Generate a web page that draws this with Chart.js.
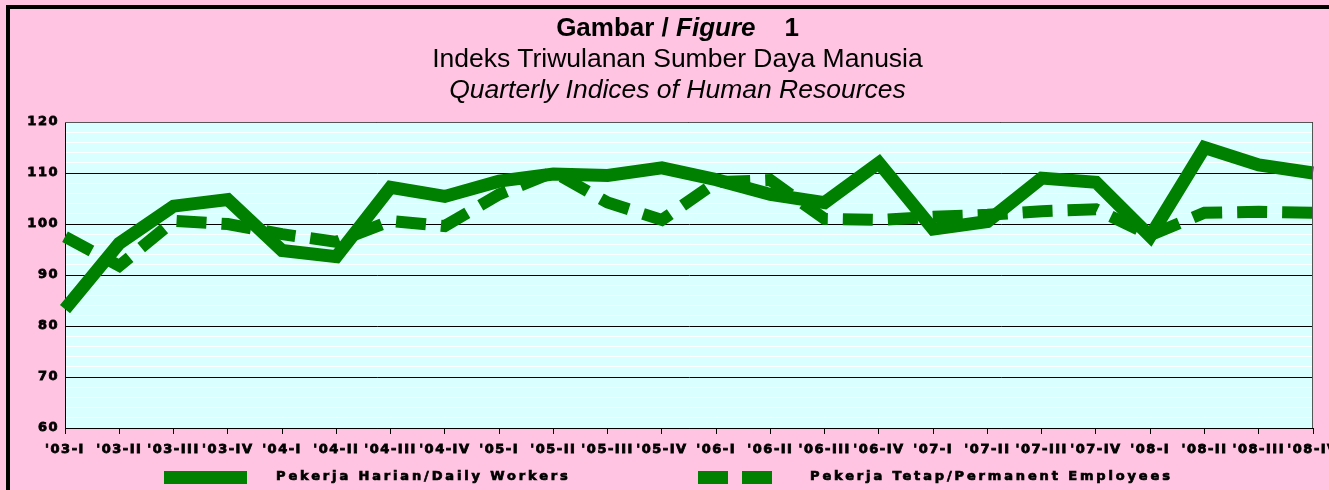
<!DOCTYPE html>
<html>
<head>
<meta charset="utf-8">
<script src="https://cdn.jsdelivr.net/npm/chart.js@4"></script>
<style>
  html, body { margin: 0; padding: 0; }
  body { width: 1329px; height: 490px; background: #ffc4e1; position: relative; overflow: hidden; font-family: "Liberation Sans", Arial, sans-serif; }
  #frame { position: absolute; left: 6px; top: 5px; right: -10px; bottom: -10px; border-top: 4px solid #000; border-left: 4px solid #000; pointer-events: none; }
  #titles { position: absolute; left: 13px; width: 1329px; top: 12px; text-align: center; color: #000; }
  #titles div { line-height: 31px; }
  .t1 { font-size: 26px; font-weight: bold; }
  .t2 { font-size: 26.5px; }
  .t3 { font-size: 26.5px; font-style: italic; }
  #chart { position: absolute; left: 0; top: 0; }
  .leg { position: absolute; top: 471px; height: 13px; background: #008000; }
  .legtxt { position: absolute; top: 468px; font-family: "DejaVu Sans", sans-serif; font-weight: bold; font-size: 13px; letter-spacing: 2.85px; -webkit-text-stroke: 0.7px #000; color: #000; white-space: nowrap; }
</style>
</head>
<body>
<canvas id="chart" width="1329" height="490"></canvas>
<div id="titles">
  <div class="t1">Gambar / <i>Figure</i>&nbsp;&nbsp;&nbsp;&nbsp;1</div>
  <div class="t2">Indeks Triwulanan Sumber Daya Manusia</div>
  <div class="t3">Quarterly Indices of Human Resources</div>
</div>
<div class="leg" style="left:164px;width:83px"></div>
<div class="legtxt" style="left:276px">Pekerja Harian/Daily Workers</div>
<div class="leg" style="left:698px;width:30px"></div>
<div class="leg" style="left:742px;width:30px"></div>
<div class="legtxt" style="left:810px">Pekerja Tetap/Permanent Employees</div>
<div id="frame"></div>
<script>
const quarters = [
  "'03-I", "'03-II", "'03-III", "'03-IV",
  "'04-I", "'04-II", "'04-III", "'04-IV",
  "'05-I", "'05-II", "'05-III", "'05-IV",
  "'06-I", "'06-II", "'06-III", "'06-IV",
  "'07-I", "'07-II", "'07-III", "'07-IV",
  "'08-I", "'08-II", "'08-III", "'08-IV",
];
const dailyWorkers = [83.3, 96.2, 103.5, 104.8, 94.8, 93.6, 107.2, 105.4, 108.4, 109.8, 109.5, 111,
  108.7, 105.8, 104.2, 112, 99, 100.5, 109, 108.2, 97.6, 115, 111.6, 110];
const permanentEmployees = [97.5, 91.8, 100.6, 100, 98, 96.5, 100.6, 99.6, 105.8, 110.2, 104.2, 100.8,
  108.2, 108.6, 101, 100.8, 101.4, 101.8, 102.5, 102.9, 97.8, 102.2, 102.4, 102.2];
const yTicks = [60, 70, 80, 90, 100, 110, 120];

const plotBg = {
  id: "plotBg",
  beforeDraw(chart) {
    const { ctx, chartArea: a } = chart;
    ctx.save();
    ctx.fillStyle = "#d9ffff";
    ctx.fillRect(a.left, a.top, a.right - a.left, a.bottom - a.top);
    ctx.restore();
    ctx.letterSpacing = "1.5px";
  },
  afterDatasetsDraw(chart) {
    const { ctx, chartArea: a } = chart;
    ctx.save();
    ctx.strokeStyle = "#555";
    ctx.lineWidth = 1;
    ctx.beginPath();
    ctx.moveTo(a.left, a.top + 0.5);
    ctx.lineTo(a.right - 0.5, a.top + 0.5);
    ctx.lineTo(a.right - 0.5, a.bottom);
    ctx.stroke();
    ctx.restore();
  },
};

const tickFont = { family: "DejaVu Sans", weight: "bold", size: 13 };

new Chart(document.getElementById("chart").getContext("2d"), {
  type: "line",
  data: {
    labels: quarters,
    datasets: [
      {
        label: "Pekerja Harian/Daily Workers",
        data: dailyWorkers,
        borderColor: "#008000",
        borderWidth: 13,
        borderJoinStyle: "miter",
        pointRadius: 0,
        tension: 0,
      },
      {
        label: "Pekerja Tetap/Permanent Employees",
        data: permanentEmployees,
        borderColor: "#008000",
        borderWidth: 12,
        borderDash: [30, 15],
        borderJoinStyle: "miter",
        pointRadius: 0,
        tension: 0,
      },
    ],
  },
  options: {
    responsive: false,
    animation: false,
    layout: { padding: { left: 6, right: 16, top: 122, bottom: 28 } },
    plugins: { legend: { display: false }, title: { display: false }, tooltip: { enabled: false } },
    scales: {
      x: {
        offset: false,
        grid: { drawOnChartArea: false, drawTicks: true, tickLength: 6, color: "#000" },
        border: { color: "#000", width: 1 },
        ticks: {
          autoSkip: false, maxRotation: 0, minRotation: 0, padding: 8, color: "#000", font: tickFont,
          textStrokeColor: "#000", textStrokeWidth: 0.8,
        },
        afterFit(s) { s.height = 34; s.paddingRight = 0; s.paddingLeft = 0; },
      },
      y: {
        min: yTicks[0],
        max: yTicks[yTicks.length - 1],
        ticks: {
          autoSkip: false, stepSize: 2, padding: 6, color: "#000", font: tickFont,
          textStrokeColor: "#000", textStrokeWidth: 0.8,
          callback: (v) => (yTicks.includes(v) ? v : ""),
        },
        grid: {
          drawTicks: false,
          color: (c) => (yTicks.includes(c.tick.value) ? "#000" : "rgba(255,255,255,0.9)"),
          lineWidth: 1,
        },
        border: { color: "#000", width: 1 },
        afterFit(s) { s.width = 59; },
      },
    },
  },
  plugins: [plotBg],
});
</script>
</body>
</html>
